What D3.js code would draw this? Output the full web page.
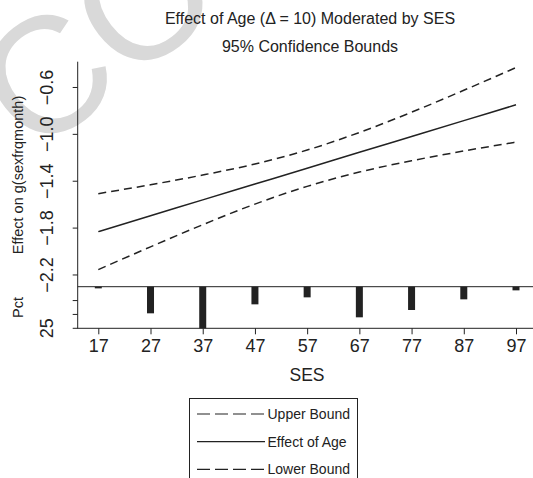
<!DOCTYPE html>
<html>
<head>
<meta charset="utf-8">
<script src="https://cdn.jsdelivr.net/npm/d3@7"></script>
<style>
  html, body { margin: 0; padding: 0; background: #fff; }
  svg { display: block; font-family: "Liberation Sans", Arial, sans-serif; }
</style>
</head>
<body>
<svg id="chart" width="533" height="478"></svg>
<script>
// ---- data ----
const sesValues = [17, 27, 37, 47, 57, 67, 77, 87, 97];
const effectOfAge = [-1.830, -1.695, -1.559, -1.424, -1.289, -1.153, -1.018, -0.883, -0.748];
const upperBound  = [-1.506, -1.430, -1.347, -1.253, -1.134, -0.984, -0.811, -0.624, -0.430];
const lowerBound  = [-2.154, -1.960, -1.771, -1.595, -1.444, -1.322, -1.225, -1.142, -1.066];
const pctValues   = [1.0, 16.0, 25.0, 10.6, 6.4, 18.4, 14.0, 7.6, 2.2];
const xTicks = [17, 27, 37, 47, 57, 67, 77, 87, 97];
const yTicks = [-2.2, -1.8, -1.4, -1.0, -0.6];
const pctTicks = [25 / 3, 50 / 3, 25];
const pctTickLabels = ["", "", "25"];
const titleLines = ["Effect of Age (\u0394 = 10) Moderated by SES", "95% Confidence Bounds"];
const legendItems = ["Upper Bound", "Effect of Age", "Lower Bound"];

const svg = d3.select("#chart");
const ink = "#222";

// watermark
svg.append("text")
  .attr("transform", "translate(34,158) rotate(-38)")
  .attr("font-size", 165)
  .attr("fill", "#d9d9d9")
  .text("CO");

// scales
const x = d3.scaleLinear().domain([17, 97]).range([98.3, 516]);
const y = d3.scaleLinear().domain([-2.3, -0.38]).range([286.7, 61.7]);
const yp = d3.scaleLinear().domain([0, 25]).range([286.7, 328.3]);
const axisX = 77.7;

// titles
titleLines.forEach((t, i) => {
  svg.append("text").attr("x", 310).attr("y", 24 + i * 28)
    .attr("text-anchor", "middle").attr("font-size", 16).attr("fill", ink).text(t);
});

// left axis (top panel)
const gy = svg.append("g").attr("transform", `translate(${axisX},0)`)
  .call(d3.axisLeft(y).tickValues(yTicks).tickSize(5).tickFormat(d3.format(".1f")));
gy.select(".domain").remove();
gy.selectAll(".tick").attr("transform", "translate(0,0)");
gy.selectAll(".tick line").attr("stroke", ink).attr("y1", d => y(d)).attr("y2", d => y(d));
gy.selectAll("text").attr("font-size", 18).attr("fill", ink)
  .attr("x", 0).attr("y", 0).attr("dy", "0.35em").attr("text-anchor", "middle")
  .attr("transform", d => `translate(${47 - axisX},${y(d)}) rotate(-90)`);

// left axis (bar panel)
const gp = svg.append("g").attr("transform", `translate(${axisX},0)`)
  .call(d3.axisLeft(yp).tickValues(pctTicks).tickSize(5).tickFormat((d, i) => pctTickLabels[i]));
gp.select(".domain").remove();
gp.selectAll(".tick").attr("transform", "translate(0,0)");
gp.selectAll(".tick line").attr("stroke", ink).attr("y1", d => yp(d)).attr("y2", d => yp(d));
gp.selectAll("text").attr("font-size", 18).attr("fill", ink)
  .attr("x", 0).attr("y", 0).attr("dy", "0.35em").attr("text-anchor", "middle")
  .attr("transform", d => `translate(${47 - axisX},${yp(d)}) rotate(-90)`);

// vertical axis line
svg.append("line").attr("x1", axisX).attr("x2", axisX).attr("y1", 61.7).attr("y2", 328.3)
  .attr("stroke", ink).attr("stroke-width", 1);
// separator
svg.append("line").attr("x1", axisX).attr("x2", 533).attr("y1", 286.7).attr("y2", 286.7)
  .attr("stroke", ink).attr("stroke-width", 1);

// bottom axis
const gx = svg.append("g").attr("transform", "translate(0,328.3)")
  .call(d3.axisBottom(x).tickValues(xTicks).tickSize(6).tickFormat(d3.format("d")));
gx.select(".domain").remove();
gx.selectAll("line").attr("stroke", ink);
gx.selectAll("text").attr("font-size", 18).attr("fill", ink).attr("y", 11);
svg.append("line").attr("x1", axisX - 0.5).attr("x2", 533).attr("y1", 328.3).attr("y2", 328.3)
  .attr("stroke", ink).attr("stroke-width", 1);

// axis titles
svg.append("text").attr("transform", "translate(23,175) rotate(-90)")
  .attr("text-anchor", "middle").attr("font-size", 14.5).attr("fill", ink).text("Effect on g(sexfrqmonth)");
svg.append("text").attr("transform", "translate(23,307.5) rotate(-90)")
  .attr("text-anchor", "middle").attr("font-size", 14.5).attr("fill", ink).text("Pct");
svg.append("text").attr("x", 307).attr("y", 381)
  .attr("text-anchor", "middle").attr("font-size", 17.5).attr("fill", ink).text("SES");

// bars
svg.append("g").selectAll("rect").data(pctValues).join("rect")
  .attr("x", (d, i) => x(sesValues[i]) - 3.5)
  .attr("y", yp(0))
  .attr("width", 7)
  .attr("height", d => yp(d) - yp(0))
  .attr("fill", ink);

// lines
const line = d3.line().x((d, i) => x(sesValues[i])).y(d => y(d)).curve(d3.curveMonotoneX);
const series = [
  { vals: upperBound, dash: "8,5" },
  { vals: effectOfAge, dash: null },
  { vals: lowerBound, dash: "8,5" }
];
series.forEach(s => {
  svg.append("path").attr("d", line(s.vals)).attr("fill", "none")
    .attr("stroke", ink).attr("stroke-width", 1.5)
    .attr("stroke-dasharray", s.dash);
});

// legend
svg.append("rect").attr("x", 189.5).attr("y", 398.5).attr("width", 168).attr("height", 90)
  .attr("fill", "#fff").attr("stroke", ink).attr("stroke-width", 1);
legendItems.forEach((t, i) => {
  const ly = 414 + i * 27.7;
  svg.append("line").attr("x1", 197).attr("x2", 265).attr("y1", ly).attr("y2", ly)
    .attr("stroke", ink).attr("stroke-width", 1.2)
    .attr("stroke-dasharray", i === 1 ? null : "13,5");
  svg.append("text").attr("x", 267.5).attr("y", ly).attr("dy", "0.35em")
    .attr("font-size", 14).attr("fill", ink).text(t);
});
</script>
</body>
</html>
